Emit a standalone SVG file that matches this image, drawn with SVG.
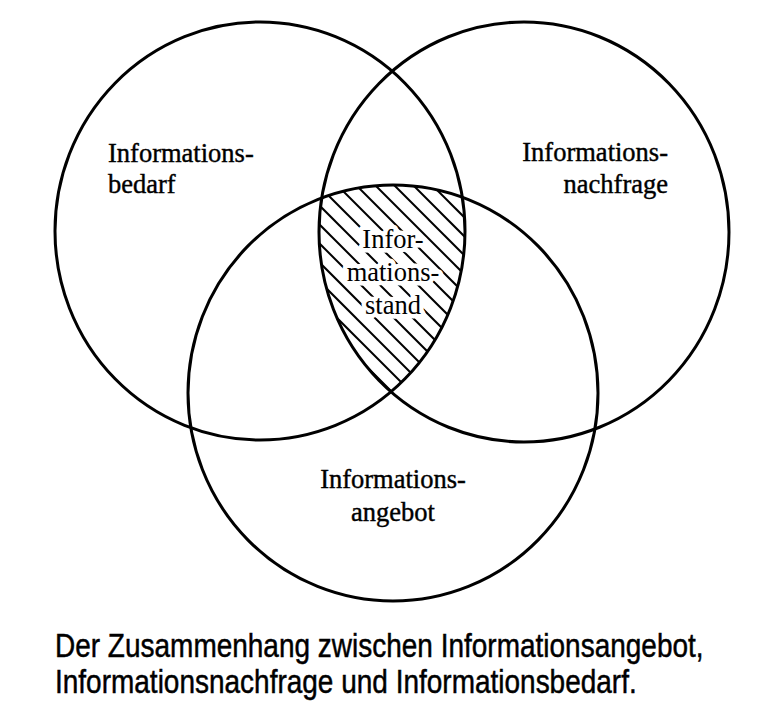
<svg xmlns="http://www.w3.org/2000/svg" width="767" height="725" viewBox="0 0 767 725">
<style>
.ring{fill:none;stroke:#000;stroke-width:3}
.lbl{font-family:"Liberation Serif","Times New Roman",serif;font-size:26.5px;fill:#000;stroke:#000;stroke-width:0.4}
.halo{paint-order:stroke;stroke:#fff;stroke-width:9;stroke-linejoin:round}
.hatch line{stroke:#000;stroke-width:2}
.cap{font-family:"Liberation Sans",Arial,sans-serif;font-size:28px;fill:#000;stroke:#000;stroke-width:0.4}
</style>
<defs>
<clipPath id="cL"><ellipse cx="260" cy="231" rx="205" ry="209"/></clipPath>
<clipPath id="cR"><ellipse cx="524" cy="232" rx="205" ry="210"/></clipPath>
<clipPath id="cB"><ellipse cx="393" cy="393" rx="205" ry="208"/></clipPath>
</defs>
<rect width="767" height="725" fill="#fff"/>
<g id="hatching">
<g clip-path="url(#cL)"><g clip-path="url(#cR)"><g clip-path="url(#cB)" class="hatch">
<line x1="151" y1="170" x2="391" y2="410"/>
<line x1="170" y1="170" x2="410" y2="410"/>
<line x1="189" y1="170" x2="429" y2="410"/>
<line x1="208" y1="170" x2="448" y2="410"/>
<line x1="227" y1="170" x2="467" y2="410"/>
<line x1="246" y1="170" x2="486" y2="410"/>
<line x1="265" y1="170" x2="505" y2="410"/>
<line x1="284" y1="170" x2="524" y2="410"/>
<line x1="303" y1="170" x2="543" y2="410"/>
<line x1="322" y1="170" x2="562" y2="410"/>
<line x1="341" y1="170" x2="581" y2="410"/>
<line x1="360" y1="170" x2="600" y2="410"/>
<line x1="379" y1="170" x2="619" y2="410"/>
<line x1="398" y1="170" x2="638" y2="410"/>
<line x1="417" y1="170" x2="657" y2="410"/>
<line x1="436" y1="170" x2="676" y2="410"/>
</g></g></g>
</g>
<g id="bedarf">
<ellipse class="ring" cx="260" cy="231" rx="205" ry="209"/>
<text class="lbl" x="108" y="162">Informations-</text>
<text class="lbl" x="108" y="193">bedarf</text>
</g>
<g id="nachfrage">
<ellipse class="ring" cx="524" cy="232" rx="205" ry="210"/>
<text class="lbl" x="668" y="161" text-anchor="end">Informations-</text>
<text class="lbl" x="668" y="193" text-anchor="end">nachfrage</text>
</g>
<g id="angebot">
<ellipse class="ring" cx="393" cy="393" rx="205" ry="208"/>
<text class="lbl" x="393" y="488" text-anchor="middle">Informations-</text>
<text class="lbl" x="393" y="521" text-anchor="middle">angebot</text>
</g>
<g id="stand">
<text class="lbl halo" x="393" y="248" text-anchor="middle">Infor-</text>
<text class="lbl halo" x="393" y="281" text-anchor="middle">mations-</text>
<text class="lbl halo" x="393" y="314" text-anchor="middle">stand</text>
</g>
<g id="caption">
<text class="cap" transform="translate(55,657) scale(1,1.2)" x="0" y="0">Der Zusammenhang zwischen Informationsangebot,</text>
<text class="cap" transform="translate(55,693) scale(1,1.2)" x="0" y="0">Informationsnachfrage und Informationsbedarf.</text>
</g>
</svg>
